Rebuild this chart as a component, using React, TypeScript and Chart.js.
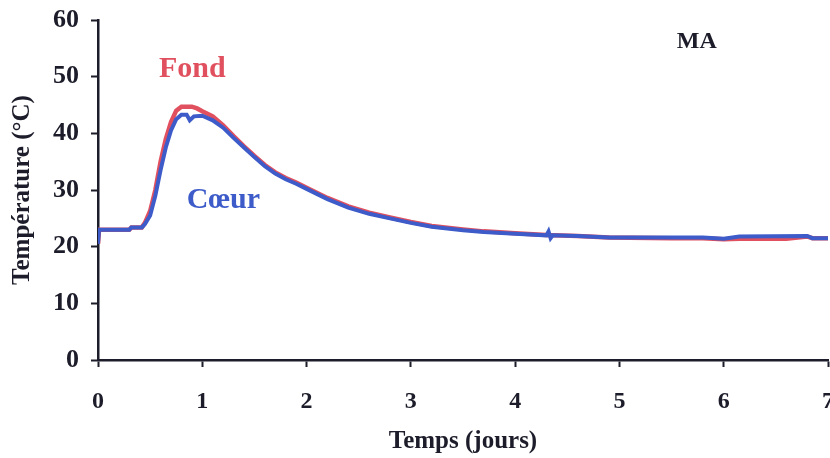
import React, { useEffect, useRef } from "react";
import { Chart, registerables } from "chart.js";

Chart.register(...registerables);

// Time in days
const coeurDays = [0, 0.01, 0.3, 0.32, 0.42, 0.45, 0.5, 0.55, 0.6, 0.65, 0.7, 0.75, 0.8, 0.85, 0.88, 0.92, 1.0, 1.1, 1.2, 1.3, 1.4, 1.5, 1.6, 1.7, 1.8, 1.9, 2.0, 2.2, 2.4, 2.6, 2.8, 3.0, 3.2, 3.5, 3.7, 4.0, 4.3, 4.32, 4.34, 4.36, 4.6, 4.9, 5.5, 5.8, 6.0, 6.15, 6.8, 6.85, 7.0];
const coeurTemp = [20.5, 23, 23, 23.4, 23.4, 24, 25.5, 29, 33.5, 37.5, 40.5, 42.5, 43.3, 43.3, 42.3, 43, 43.1, 42.3, 41, 39.2, 37.5, 35.8, 34.2, 32.9, 31.9, 31.1, 30.2, 28.4, 26.9, 25.8, 25, 24.2, 23.5, 22.9, 22.6, 22.3, 22, 22.7, 21.5, 22, 21.9, 21.6, 21.6, 21.6, 21.4, 21.8, 21.9, 21.5, 21.5];

const fondDays = [0, 0.01, 0.3, 0.32, 0.42, 0.45, 0.5, 0.55, 0.6, 0.65, 0.7, 0.75, 0.8, 0.9, 0.95, 1.0, 1.1, 1.2, 1.3, 1.4, 1.5, 1.6, 1.7, 1.8, 1.9, 2.0, 2.2, 2.4, 2.6, 2.8, 3.0, 3.2, 3.5, 3.7, 4.0, 4.3, 4.6, 4.9, 5.5, 5.8, 6.0, 6.15, 6.6, 6.8, 6.85, 7.0];
const fondTemp = [20.5, 23, 23, 23.4, 23.4, 24.2, 26.3, 30, 35, 39, 42, 44, 44.7, 44.7, 44.4, 43.9, 43, 41.4, 39.5, 37.7, 36, 34.4, 33.1, 32.1, 31.3, 30.4, 28.6, 27.1, 26, 25.15, 24.35, 23.65, 23.05, 22.7, 22.35, 22.05, 21.9, 21.6, 21.5, 21.5, 21.3, 21.4, 21.4, 21.8, 21.5, 21.5];

const xTicksMin = 0;
const xTicksMax = 7;
const yTicksMin = 0;
const yTicksMax = 60;

const annotTexts = ["Fond", "Cœur", "MA"];
const annotX = [0.905, 0.85, 5.55];
const annotY = [49.9, 26.8, 55];

const RED = "#e0505e";
const BLUE = "#3d5bc9";
const INK = "#1c1c2a";
const SERIF = '"Liberation Serif", "Times New Roman", serif';

export default function App() {
  const ref = useRef<HTMLCanvasElement | null>(null);

  useEffect(() => {
    if (!ref.current) return;
    const annotPlugin = {
      id: "annot",
      afterDatasetsDraw(chart: any) {
        const { ctx, scales } = chart;
        const cfg = [
          { color: RED, size: 30, align: "center" },
          { color: BLUE, size: 30, align: "left" },
          { color: INK, size: 24, align: "left" },
        ];
        ctx.save();
        annotTexts.forEach((t, i) => {
          ctx.font = `bold ${cfg[i].size}px ${SERIF}`;
          ctx.fillStyle = cfg[i].color;
          ctx.textAlign = cfg[i].align;
          ctx.textBaseline = "alphabetic";
          ctx.fillText(t, scales.x.getPixelForValue(annotX[i]), scales.y.getPixelForValue(annotY[i]));
        });
        ctx.restore();
      },
    };

    const chart = new Chart(ref.current, {
      type: "line",
      data: {
        datasets: [
          {
            label: "Cœur",
            data: coeurDays.map((d, i) => ({ x: d, y: coeurTemp[i] })),
            borderColor: BLUE,
            borderWidth: 4,
            pointRadius: 0,
            tension: 0,
            order: 1,
          },
          {
            label: "Fond",
            data: fondDays.map((d, i) => ({ x: d, y: fondTemp[i] })),
            borderColor: RED,
            borderWidth: 4.5,
            pointRadius: 0,
            tension: 0,
            order: 2,
          },
        ],
      },
      options: {
        animation: false,
        responsive: false,
        maintainAspectRatio: false,
        layout: { padding: { top: 20, right: 2, left: 0, bottom: 0 } },
        plugins: { legend: { display: false }, tooltip: { enabled: false } },
        scales: {
          x: {
            type: "linear",
            min: xTicksMin,
            max: xTicksMax,
            afterFit: (s: any) => {
              s.height = 98;
              s.paddingLeft = 0;
              s.paddingRight = 0;
            },
            ticks: {
              stepSize: 1,
              color: INK,
              padding: 20,
              maxRotation: 0,
              font: { family: SERIF, weight: "bold", size: 24 },
            },
            grid: { drawOnChartArea: false, tickLength: 7, tickColor: INK, tickWidth: 2 },
            border: { display: true, color: INK, width: 2.5 },
            title: {
              display: true,
              text: "Temps (jours)",
              color: INK,
              padding: { top: 0, bottom: 1 },
              font: { family: SERIF, weight: "bold", size: 25 },
            },
          },
          y: {
            type: "linear",
            min: yTicksMin,
            max: yTicksMax,
            afterFit: (s: any) => {
              s.width = 98;
              s.paddingTop = 0;
              s.paddingBottom = 0;
            },
            ticks: {
              stepSize: 5,
              color: INK,
              padding: 12,
              callback: (v: any) => (Number(v) % 10 === 0 ? String(v) : ""),
              font: { family: SERIF, weight: "bold", size: 26 },
            },
            grid: { drawOnChartArea: false, tickLength: 7, tickColor: INK, tickWidth: 2 },
            border: { display: true, color: INK, width: 2.5 },
            title: {
              display: true,
              text: "Température (°C)",
              color: INK,
              padding: { top: 8, bottom: 0 },
              font: { family: SERIF, weight: "bold", size: 25 },
            },
          },
        },
      },
      plugins: [annotPlugin],
    } as any);
    return () => chart.destroy();
  }, []);

  return (
    <div style={{ position: "fixed", left: 0, top: 0, width: 830, height: 458, background: "#fff" }}>
      <canvas ref={ref} width={830} height={458} style={{ width: 830, height: 458 }} />
    </div>
  );
}
